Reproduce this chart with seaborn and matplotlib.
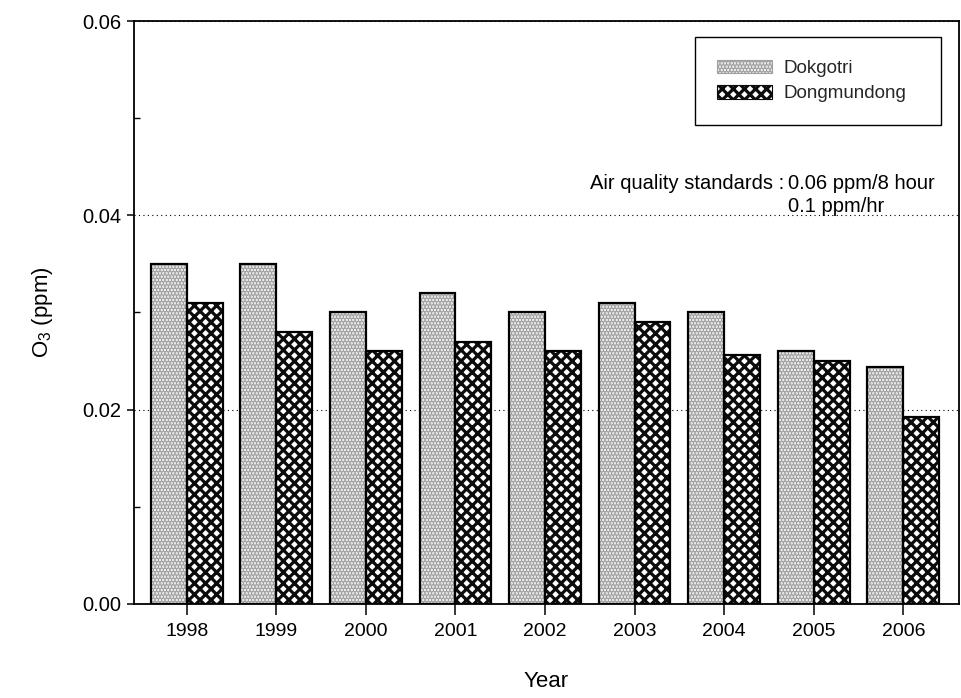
import matplotlib
matplotlib.use("Agg")
import matplotlib.pyplot as plt
import numpy as np
import pandas as pd
import seaborn as sns
from matplotlib.patches import Rectangle, Patch
from matplotlib.ticker import MultipleLocator, FixedLocator

# Annual mean ozone at two monitoring sites
years = ["1998", "1999", "2000", "2001", "2002", "2003", "2004", "2005", "2006"]
sites = ["Dokgotri", "Dongmundong"]
dokgotri = [0.035, 0.035, 0.030, 0.032, 0.030, 0.031, 0.030, 0.026, 0.0244]
dongmundong = [0.031, 0.028, 0.026, 0.027, 0.026, 0.029, 0.0256, 0.025, 0.0192]
y_ticks = [0.00, 0.02, 0.04, 0.06]
y_tick_labels = ["0.00", "0.02", "0.04", "0.06"]

sns.set_theme(style="ticks")
plt.rcParams["font.family"] = ["Liberation Sans", "DejaVu Sans"]
plt.rcParams["mathtext.default"] = "regular"
plt.rcParams["hatch.linewidth"] = 2.3

df = pd.DataFrame({
    "Year": years * 2,
    "O3": dokgotri + dongmundong,
    "Site": [sites[0]] * len(years) + [sites[1]] * len(years),
})

fig = plt.figure(figsize=(9.62, 6.98), dpi=100)
ax = fig.add_axes([0.1393, 0.1347, 0.8576, 0.8352])

sns.barplot(data=df, x="Year", y="O3", hue="Site", order=years, hue_order=sites,
            palette=["white", "white"], saturation=1, width=0.8, errorbar=None,
            legend=False, ax=ax)

# fill styles: fine stipple for Dokgotri, dense cross-hatch for Dongmundong
styles = {
    "Dokgotri": dict(face="#f6f6f6", hatch=".....", hcolor="#a0a0a0"),
    "Dongmundong": dict(face="white", hatch="xxx", hcolor="#0c0c0c"),
}
for container, site in zip(ax.containers, sites):
    st = styles[site]
    for bar in container:
        bar.set_facecolor(st["face"])
        bar.set_hatch(st["hatch"])
        bar.set_edgecolor(st["hcolor"])
        bar.set_linewidth(0)
        ax.add_patch(Rectangle(bar.get_xy(), bar.get_width(), bar.get_height(),
                               fill=False, edgecolor="black", linewidth=1.6,
                               zorder=bar.get_zorder() + 0.1))

ax.set_ylim(0, 0.06)
ax.set_xlim(-0.588, 8.622)
ax.yaxis.set_major_locator(FixedLocator(y_ticks))
ax.set_yticklabels(y_tick_labels)
ax.yaxis.set_minor_locator(MultipleLocator(0.01))

for sp in ax.spines.values():
    sp.set_color("black")
    sp.set_linewidth(1.3)

ax.tick_params(axis="y", which="major", direction="out", length=5, width=1.1,
               color="black", labelsize=14.5, pad=4, labelcolor="black")
ax.tick_params(axis="y", which="minor", direction="in", length=4, width=1.0,
               color="black")
ax.tick_params(axis="x", which="major", direction="out", length=8, width=1.1,
               color="black", labelsize=14, pad=6, labelcolor="black")

ax.grid(axis="y", which="major", linestyle=(0, (1, 3)), color="black", linewidth=0.8)
ax.set_axisbelow(True)

ax.set_xlabel("Year", fontsize=16, labelpad=22, color="black")
ax.set_ylabel("O$_3$ (ppm)", fontsize=16, labelpad=20, color="black")

handles = [
    Patch(facecolor=styles[s]["face"], hatch=styles[s]["hatch"],
          edgecolor=styles[s]["hcolor"], linewidth=0.8, label=s)
    for s in sites
]
leg = ax.legend(handles=handles, loc="upper left",
                bbox_to_anchor=(695 / 962, 1 - 124 / 698, 246 / 962, 87 / 698),
                bbox_transform=fig.transFigure, borderaxespad=0, mode="expand",
                fontsize=13.5, frameon=True, fancybox=False, framealpha=1,
                handlelength=2.9, handleheight=0.75, handletextpad=0.6,
                borderpad=1.2, labelspacing=0.42)
leg.get_frame().set_edgecolor("black")
leg.get_frame().set_linewidth(1.0)

note_x = 788 / 962
note_y = 1 - 174 / 698
fig.text(note_x - 0.004, note_y, "Air quality standards :", ha="right", va="top",
         fontsize=14.5, color="black")
fig.text(note_x, note_y, "0.06 ppm/8 hour\n0.1 ppm/hr", ha="left", va="top",
         fontsize=14.5, color="black", linespacing=1.3)

fig.savefig("out.png", dpi=100)
